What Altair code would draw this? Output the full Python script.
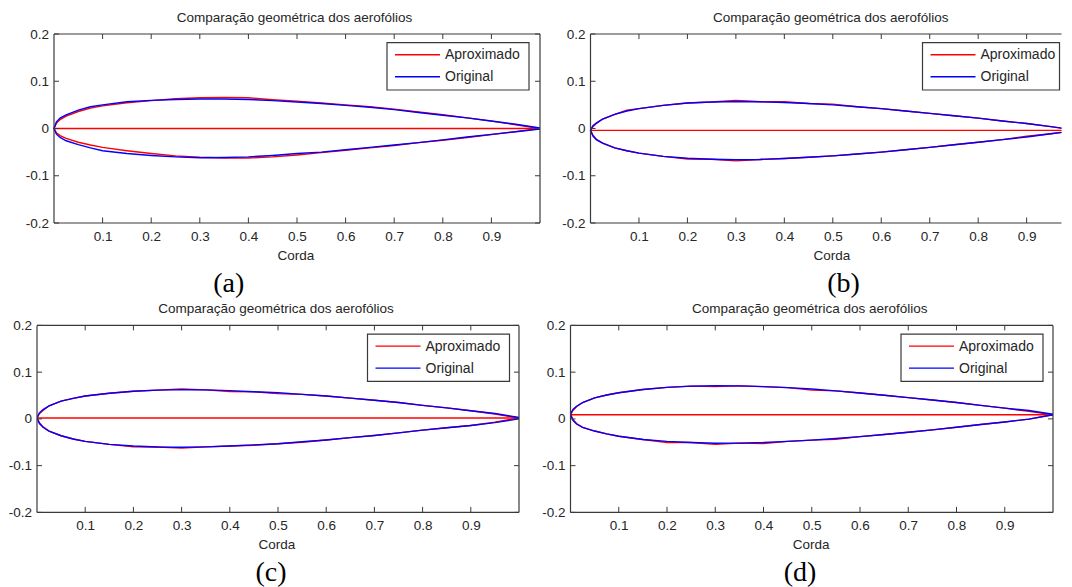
import altair as alt
import pandas as pd

# ---------------- data ----------------
x_grid = [0, 0.005, 0.0125, 0.025, 0.05, 0.075, 0.1, 0.15, 0.2, 0.25, 0.3, 0.35, 0.4,
          0.45, 0.5, 0.55, 0.6, 0.65, 0.7, 0.75, 0.8, 0.85, 0.9, 0.95, 1.0]

# panel (a)
a_orig_up = [0, 0.014, 0.022, 0.029, 0.039, 0.046, 0.050, 0.0565, 0.0595, 0.0615, 0.0625, 0.0625, 0.0615,
             0.059, 0.056, 0.053, 0.049, 0.045, 0.040, 0.034, 0.028, 0.0225, 0.016, 0.009, 0.001]
a_orig_lo = [0, -0.012, -0.019, -0.026, -0.034, -0.041, -0.047, -0.053, -0.057, -0.060, -0.062, -0.0615, -0.060,
             -0.057, -0.053, -0.050, -0.045, -0.040, -0.035, -0.030, -0.024, -0.018, -0.0125, -0.007, -0.001]
a_aprox_up = [0, 0.011, 0.019, 0.026, 0.036, 0.043, 0.048, 0.0545, 0.059, 0.063, 0.065, 0.0655, 0.065,
              0.061, 0.058, 0.054, 0.050, 0.046, 0.041, 0.035, 0.029, 0.0225, 0.0155, 0.008, 0.0]
a_aprox_lo = [0, -0.009, -0.015, -0.021, -0.029, -0.035, -0.040, -0.047, -0.053, -0.058, -0.061, -0.0625, -0.0625,
              -0.060, -0.056, -0.051, -0.046, -0.041, -0.036, -0.030, -0.025, -0.019, -0.013, -0.0065, 0.0]
a_chord = 0.0

# panel (b)
b_orig_up = [-0.004, 0.006, 0.012, 0.020, 0.030, 0.037, 0.042, 0.049, 0.054, 0.056, 0.057, 0.0565, 0.055,
             0.053, 0.050, 0.046, 0.042, 0.037, 0.032, 0.027, 0.022, 0.016, 0.0105, 0.004, -0.003]
b_orig_lo = [-0.004, -0.016, -0.024, -0.031, -0.041, -0.047, -0.052, -0.059, -0.063, -0.065, -0.066, -0.0655, -0.0636,
             -0.061, -0.058, -0.054, -0.050, -0.045, -0.040, -0.0345, -0.029, -0.0235, -0.018, -0.011, -0.005]
b_aprox_up = [-0.004, 0.004, 0.011, 0.020, 0.030, 0.0385, 0.042, 0.049, 0.054, 0.056, 0.0595, 0.0565, 0.0565,
              0.053, 0.0515, 0.046, 0.042, 0.037, 0.032, 0.027, 0.022, 0.016, 0.0105, 0.004, -0.004]
b_aprox_lo = [-0.004, -0.014, -0.023, -0.031, -0.041, -0.047, -0.052, -0.059, -0.0645, -0.065, -0.0685, -0.0655, -0.0636,
              -0.061, -0.058, -0.054, -0.050, -0.045, -0.040, -0.0345, -0.029, -0.0235, -0.0165, -0.011, -0.004]
b_chord = -0.004

# panel (c)
c_orig_up = [0.002, 0.013, 0.020, 0.028, 0.038, 0.044, 0.049, 0.055, 0.059, 0.0615, 0.0626, 0.062, 0.0605,
             0.058, 0.056, 0.0525, 0.049, 0.0445, 0.040, 0.035, 0.029, 0.0235, 0.0175, 0.0115, 0.003]
c_orig_lo = [0.001, -0.010, -0.018, -0.026, -0.036, -0.043, -0.048, -0.0545, -0.058, -0.060, -0.0606, -0.0598, -0.058,
             -0.0555, -0.053, -0.049, -0.045, -0.040, -0.0355, -0.030, -0.024, -0.019, -0.014, -0.008, 0.0]
c_aprox_up = [0.002, 0.011, 0.018, 0.028, 0.038, 0.044, 0.049, 0.055, 0.059, 0.0615, 0.064, 0.062, 0.0585,
              0.058, 0.054, 0.0525, 0.049, 0.0445, 0.040, 0.035, 0.029, 0.0235, 0.0175, 0.0105, 0.002]
c_aprox_lo = [0.002, -0.008, -0.017, -0.026, -0.036, -0.043, -0.048, -0.0545, -0.0595, -0.060, -0.0625, -0.0598, -0.058,
              -0.0565, -0.053, -0.050, -0.045, -0.040, -0.0355, -0.030, -0.024, -0.019, -0.014, -0.007, 0.002]
c_chord = 0.002

# panel (d)
d_orig_up = [0.010, 0.020, 0.027, 0.035, 0.045, 0.051, 0.056, 0.063, 0.0675, 0.070, 0.071, 0.0707, 0.069,
             0.067, 0.064, 0.060, 0.0555, 0.0505, 0.0455, 0.0405, 0.035, 0.029, 0.023, 0.018, 0.010]
d_orig_lo = [0.008, -0.003, -0.011, -0.018, -0.026, -0.032, -0.037, -0.044, -0.048, -0.0505, -0.052, -0.0518, -0.0506,
             -0.048, -0.0455, -0.042, -0.038, -0.0335, -0.0285, -0.0235, -0.018, -0.012, -0.0065, -0.0005, 0.009]
d_aprox_up = [0.009, 0.018, 0.026, 0.035, 0.045, 0.051, 0.056, 0.063, 0.0675, 0.070, 0.069, 0.0707, 0.069,
              0.067, 0.0615, 0.060, 0.0555, 0.0505, 0.0455, 0.0405, 0.035, 0.029, 0.023, 0.016, 0.009]
d_aprox_lo = [0.009, -0.001, -0.010, -0.018, -0.026, -0.032, -0.037, -0.044, -0.0505, -0.0505, -0.0545, -0.0518, -0.0525,
              -0.048, -0.0455, -0.0435, -0.038, -0.0335, -0.0285, -0.0235, -0.018, -0.012, -0.0065, -0.0005, 0.009]
d_chord = 0.009

x_ticks = [0.1, 0.2, 0.3, 0.4, 0.5, 0.6, 0.7, 0.8, 0.9]
y_ticks = [-0.2, -0.1, 0.0, 0.1, 0.2]
legend_labels = ["Aproximado", "Original"]
series_colors = ["#ff0000", "#0000ff"]
title_text = "Comparação geométrica dos aerofólios"
x_title = "Corda"
panel_tags = ["(a)", "(b)", "(c)", "(d)"]

# ---------------- styling ----------------
FONT = "Liberation Sans"
TXT = "#262626"
FRAME = "#3a3a3a"
FS = 13.5


def loop_frame(upper, lower):
    rows = []
    k = 0
    for x, y in zip(reversed(x_grid), reversed(upper)):
        rows.append({"x": x, "y": y, "order": k})
        k += 1
    for x, y in list(zip(x_grid, lower))[1:]:
        rows.append({"x": x, "y": y, "order": k})
        k += 1
    return pd.DataFrame(rows)


def panel(tag, o_up, o_lo, a_up, a_lo, chord, W, H, full_w, lpad=0.0, right_side=True,
          legend_x=332.0, legend_w=142.0, tag_x=230.0, tag_y=61.0, title_x=240.0, label_x=241.0):
    """W: visible plot width in px; full_w: px that the chord 0..1 would span."""
    xmax = W / full_w
    GW = lpad + W
    xs = alt.Scale(domain=[0, xmax], range=[lpad, GW], nice=False, zero=False)
    ys = alt.Scale(domain=[-0.2, 0.2], nice=False, zero=False)
    xaxis = alt.Axis(values=x_ticks, format=".1f", tickSize=0, domain=False, grid=False,
                     labelPadding=6, labelFontSize=FS, labelFont=FONT, labelColor=TXT,
                     title=x_title, titleFontSize=FS, titleFont=FONT, titleFontWeight="normal",
                     titleColor=TXT, titlePadding=5.5, labelFlush=False, titleX=lpad + label_x)
    yaxis = alt.Axis(values=y_ticks, tickSize=0, domain=False, grid=False, offset=-lpad,
                     labelExpr="datum.value == 0 ? '0' : (datum.value < 0 ? '-' : '') + format(abs(datum.value), '.1f')",
                     labelPadding=5.5, labelFontSize=FS, labelFont=FONT, labelColor=TXT,
                     title=None, labelFlush=False)

    def X(f):
        return alt.X(f, type="quantitative", scale=xs, axis=xaxis)

    def Y(f):
        return alt.Y(f, type="quantitative", scale=ys, axis=yaxis)

    layers = []
    # approximated (red) first, then chord, original (blue) on top
    layers.append(alt.Chart(loop_frame(a_up, a_lo)).mark_line(color=series_colors[0], strokeWidth=1.4, clip=True)
                  .encode(x=X("x"), y=Y("y"), order="order:Q"))
    chord_df = pd.DataFrame({"x": [x_grid[0], x_grid[-1]], "y": [chord, chord]})
    layers.append(alt.Chart(chord_df).mark_line(color=series_colors[0], strokeWidth=1.4, clip=True)
                  .encode(x=X("x"), y=Y("y")))
    layers.append(alt.Chart(loop_frame(o_up, o_lo)).mark_line(color=series_colors[1], strokeWidth=1.4, clip=True)
                  .encode(x=X("x"), y=Y("y"), order="order:Q"))

    # frame
    one = pd.DataFrame({"v": [0]})
    fr = alt.Chart(one).mark_rule(color=FRAME, strokeWidth=1.2)
    layers.append(fr.encode(x=alt.value(lpad), x2=alt.value(GW), y=alt.value(0)))
    layers.append(fr.encode(x=alt.value(lpad), x2=alt.value(GW), y=alt.value(H)))
    layers.append(fr.encode(x=alt.value(lpad), y=alt.value(0), y2=alt.value(H)))
    if right_side:
        layers.append(fr.encode(x=alt.value(GW), y=alt.value(0), y2=alt.value(H)))

    # inward ticks
    xt = pd.DataFrame({"t": x_ticks})
    yt = pd.DataFrame({"t": y_ticks})
    layers.append(alt.Chart(xt).mark_rule(color=FRAME, strokeWidth=1)
                  .encode(x=X("t"), y=alt.value(H), y2=alt.value(H - 5.5)))
    layers.append(alt.Chart(xt).mark_rule(color=FRAME, strokeWidth=1)
                  .encode(x=X("t"), y=alt.value(0), y2=alt.value(5)))
    layers.append(alt.Chart(yt).mark_rule(color=FRAME, strokeWidth=1)
                  .encode(y=Y("t"), x=alt.value(lpad), x2=alt.value(lpad + 5)))
    if right_side:
        layers.append(alt.Chart(yt).mark_rule(color=FRAME, strokeWidth=1)
                      .encode(y=Y("t"), x=alt.value(GW), x2=alt.value(GW - 5)))

    # legend box
    bx0 = lpad + legend_x
    bx1 = bx0 + legend_w
    by0, by1 = 8.7, 56
    layers.append(alt.Chart(one).mark_rect(fill="white", stroke=FRAME, strokeWidth=1.2)
                  .encode(x=alt.value(bx0), x2=alt.value(bx1), y=alt.value(by0), y2=alt.value(by1)))
    for i, (lab, col) in enumerate(zip(legend_labels, series_colors)):
        ry = by0 + 12 + 22 * i
        ldf = pd.DataFrame({"label": [lab]})
        layers.append(alt.Chart(ldf).mark_rule(color=col, strokeWidth=1.4)
                      .encode(x=alt.value(bx0 + 8), x2=alt.value(bx0 + 53), y=alt.value(ry)))
        layers.append(alt.Chart(ldf).mark_text(align="left", baseline="middle", font=FONT,
                                               fontSize=14, color=TXT)
                      .encode(text="label:N", x=alt.value(bx0 + 58), y=alt.value(ry + 0.5)))

    # panel tag below
    tdf = pd.DataFrame({"label": [tag]})
    layers.append(alt.Chart(tdf).mark_text(align="center", baseline="middle",
                                           font="Liberation Serif", fontSize=28, color="black")
                  .encode(text="label:N", x=alt.value(lpad + tag_x), y=alt.value(H + tag_y)))

    return alt.layer(*layers).properties(
        width=GW, height=H,
        view=alt.ViewBackground(stroke=None),
        title=alt.TitleParams(title_text, font=FONT, fontSize=FS, fontWeight="normal",
                              color=TXT, offset=2.5, anchor="middle", frame="group",
                              dx=lpad + title_x - GW / 2),
    )


pa = panel(panel_tags[0], a_orig_up, a_orig_lo, a_aprox_up, a_aprox_lo, a_chord,
           W=486, H=189, full_w=486, lpad=17, legend_x=333, tag_x=174.7, tag_y=60.5,
           title_x=240.5, label_x=241.5)
pb = panel(panel_tags[1], b_orig_up, b_orig_lo, b_aprox_up, b_aprox_lo, b_chord,
           W=471, H=189, full_w=484.6, lpad=20, right_side=False, legend_x=332, legend_w=137,
           tag_x=253, tag_y=60.5, title_x=240.3, label_x=241)
pc = panel(panel_tags[2], c_orig_up, c_orig_lo, c_aprox_up, c_aprox_lo, c_chord,
           W=482, H=187, full_w=482, legend_x=330.5, tag_x=234, tag_y=61,
           title_x=239, label_x=239.5)
pd_ = panel(panel_tags[3], d_orig_up, d_orig_lo, d_aprox_up, d_aprox_lo, d_chord,
            W=482.5, H=187, full_w=482.5, legend_x=330.5, tag_x=229.5, tag_y=61,
            title_x=239.2, label_x=240.2)

chart = alt.concat(
    pa, pb, pc, pd_, columns=2, bounds="flush",
    spacing=alt.RowColnumber(row=102.4, column=30.5),
    padding={"left": 0, "top": 3, "right": 0, "bottom": 0},
).configure(font=FONT).configure_view(stroke=None)

chart.save("out.html", embed_options={"renderer": "svg", "actions": False})
